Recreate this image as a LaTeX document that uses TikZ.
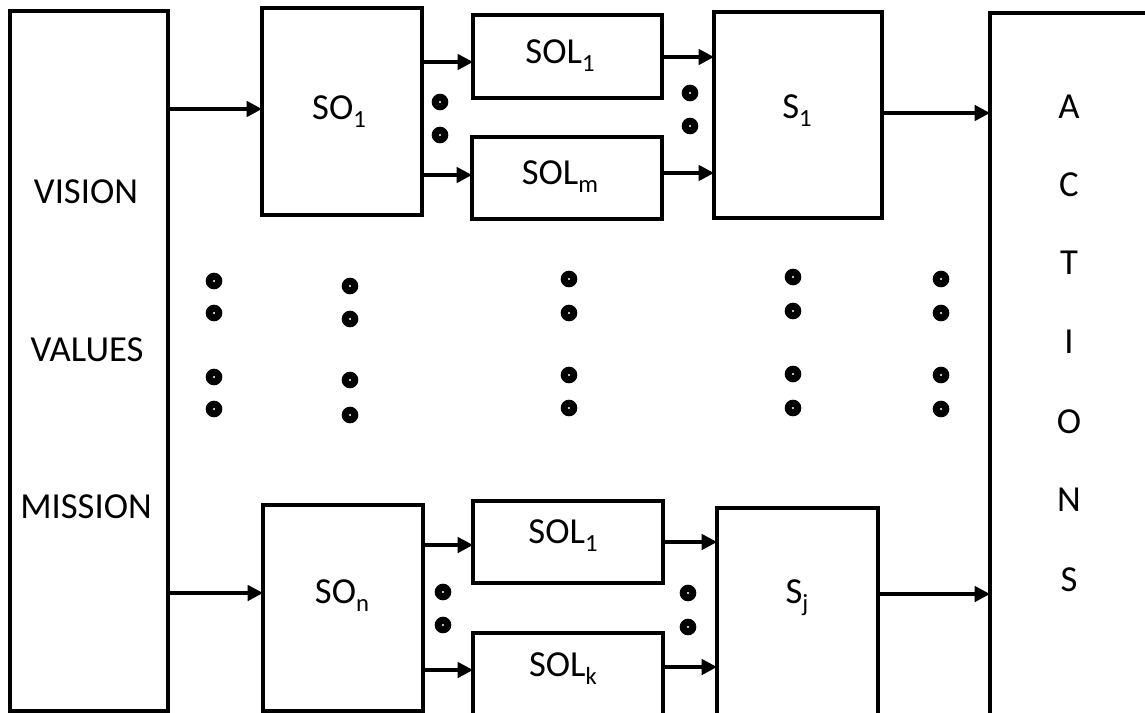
\documentclass[tikz,border=0pt]{standalone}
\usepackage{fontspec}
\setmainfont{Carlito}
\usetikzlibrary{arrows.meta,fit}
\newcommand\subx[1]{\raisebox{-0.22em}{\fontsize{18.5}{18.5}\selectfont #1}}
\begin{document}
\begin{tikzpicture}[x=0.75pt,y=-0.75pt,
  box/.style={draw, line width=2.6pt, inner sep=0pt, outer sep=0pt},
  arr/.style={-{Triangle[length=11.5pt,width=11.5pt]}, line width=2.6pt},
  lbl/.style={anchor=base, inner sep=0pt, font=\fontsize{27.5}{32}\selectfont},
  dotc/.style={circle, fill=black, minimum size=12.5pt, inner sep=0pt,
    path picture={\fill[white] (path picture bounding box.center) circle (0.9pt);}}]
\useasboundingbox (0,0) rectangle (1145,713);
\clip (0,0) rectangle (1145,713);
% boxes
\node[box, fit={(10,11) (168,711)}] (LB) {};
\node[box, fit={(262,8) (422,215)}] (SO1) {};
\node[box, fit={(473,15) (662,98)}] (SOL1) {};
\node[box, fit={(472,137) (662,219)}] (SOLm) {};
\node[box, fit={(714,12) (882,218)}] (S1) {};
\node[box, fit={(990,13) (1170,740)}] (ACT) {};
\node[box, fit={(263,505) (423,711)}] (SOn) {};
\node[box, fit={(473,501) (663,583)}] (SOL1b) {};
\node[box, fit={(473,633) (663,740)}] (SOLk) {};
\node[box, fit={(717,508) (878,740)}] (Sj) {};
% labels
\node[lbl] (tVis) at (86,203.5) {VISION};
\node[lbl] (tVal) at (87,361.5) {VALUES};
\node[lbl] (tMis) at (86,518.5) {MISSION};
\node[lbl] (tSO1) at (339,119.5) {SO\subx{1}};
\node[lbl] (tSOL1) at (560,63.5) {SOL\subx{1}};
\node[lbl] (tSOLm) at (560,184.5) {SOL\subx{m}};
\node[lbl] (tS1) at (797,118.5) {S\subx{1}};
\node[lbl] (tSOn) at (342,603.5) {SO\subx{n}};
\node[lbl] (tSOL1b) at (563,543.5) {SOL\subx{1}};
\node[lbl] (tSOLk) at (563,676.5) {SOL\subx{k}};
\node[lbl] (tSj) at (797,603.5) {S\subx{j}};
\foreach \l/\y [count=\i] in {A/107,C/185,T/263,I/342,O/422,N/500,S/580}
  \node[lbl] (tA\i) at (1069,\y+11.5) {\l};
% arrows
\draw[arr] (LB.east |- 0,109) -- (SO1.west |- 0,109);
\draw[arr] (LB.east |- 0,593) -- (SOn.west |- 0,593);
\draw[arr] (SO1.east |- 0,62) -- (SOL1.west |- 0,62);
\draw[arr] (SO1.east |- 0,175) -- (SOLm.west |- 0,175);
\draw[arr] (SOL1.east |- 0,57) -- (S1.west |- 0,57);
\draw[arr] (SOLm.east |- 0,173) -- (S1.west |- 0,173);
\draw[arr] (S1.east |- 0,113) -- (ACT.west |- 0,113);
\draw[arr] (SOn.east |- 0,545) -- (SOL1b.west |- 0,545);
\draw[arr] (SOn.east |- 0,670) -- (SOLk.west |- 0,670);
\draw[arr] (SOL1b.east |- 0,542) -- (Sj.west |- 0,542);
\draw[arr] (SOLk.east |- 0,667) -- (Sj.west |- 0,667);
\draw[arr] (Sj.east |- 0,594) -- (ACT.west |- 0,594);
% dots
\foreach \x/\ya/\yb/\yc/\yd [count=\c] in {214/281/313/377/409, 350/286/319/380/415, 569/279/313/375/408, 793/277/311/374/408, 941/279/313/375/409}{
  \node[dotc] (dc\c a) at (\x,\ya) {};
  \node[dotc] (dc\c b) at (\x,\yb) {};
  \node[dotc] (dc\c c) at (\x,\yc) {};
  \node[dotc] (dc\c d) at (\x,\yd) {};
}
\node[dotc] (s1) at (440,102) {};
\node[dotc] (s2) at (440,135) {};
\node[dotc] (s3) at (690,93) {};
\node[dotc] (s4) at (690,126) {};
\node[dotc] (s5) at (443,592) {};
\node[dotc] (s6) at (443,625) {};
\node[dotc] (s7) at (688,593) {};
\node[dotc] (s8) at (688,627) {};
\end{tikzpicture}
\end{document}
